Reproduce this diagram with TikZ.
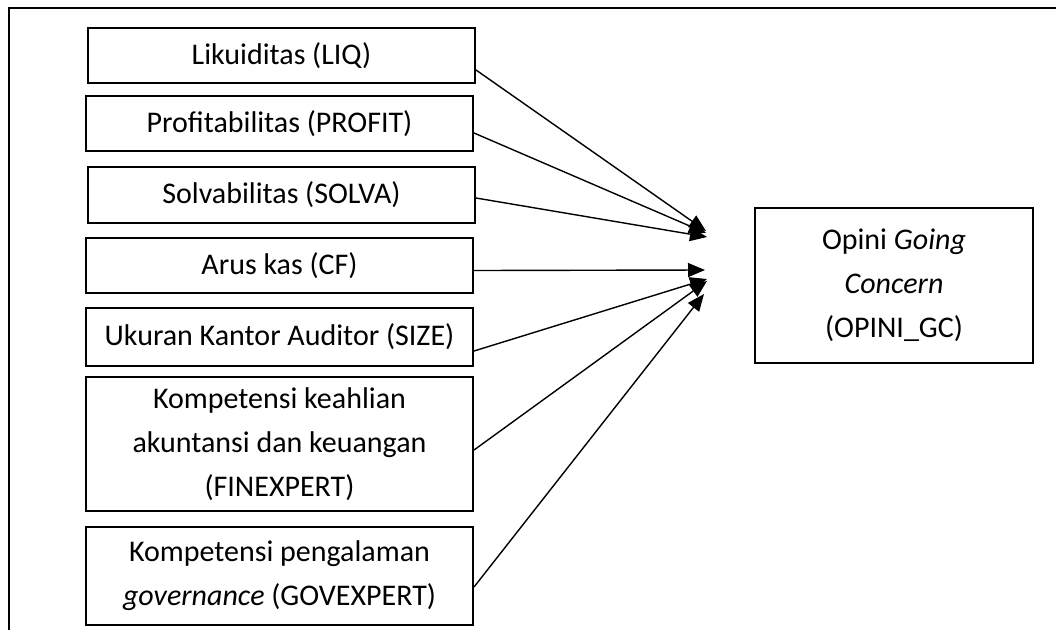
\documentclass[tikz,border=0pt]{standalone}
\usepackage{fontspec}
\setmainfont{Carlito}
\usetikzlibrary{arrows.meta}
\begin{document}
\begin{tikzpicture}[x=1pt, y=-1pt, >={Triangle[length=17pt,width=14pt]},
    varbox/.style={draw, line width=2pt, minimum width=387pt, inner sep=0pt,
        align=center, font=\fontsize{30}{44}\selectfont},
    link/.style={->, line width=1.4pt}]
    \useasboundingbox (0,0) rectangle (1056,630);
    \draw[line width=2pt] (1056,8) -- (9,8) -- (9,630);

    \node[varbox, minimum height=55pt] (liq) at (281.5,55.5) {Likuiditas (LIQ)};
    \node[varbox, minimum height=55pt] (profit) at (279.5,123.5) {Profitabilitas (PROFIT)};
    \node[varbox, minimum height=56pt] (solva) at (281.5,195) {Solvabilitas (SOLVA)};
    \node[varbox, minimum height=55pt] (cf) at (279.5,265.5) {Arus kas (CF)};
    \node[varbox, minimum height=58pt] (size) at (279.5,337) {Ukuran Kantor Auditor (SIZE)};
    \node[varbox, minimum height=134pt] (finexpert) at (279.5,444)
        {Kompetensi keahlian\\akuntansi dan keuangan\\(FINEXPERT)};
    \node[varbox, minimum height=98pt] (govexpert) at (279.5,576)
        {Kompetensi pengalaman\\\textit{governance} (GOVEXPERT)};
    \node[varbox, minimum width=278pt, minimum height=155pt] (opini) at (894,285.5)
        {Opini \textit{Going}\\\textit{Concern}\\(OPINI\_GC)};

    % arrow ends in front of opini
    \coordinate (tliq) at (706,231);
    \coordinate (tprofit) at (706,233);
    \coordinate (tsolva) at (707,237);
    \coordinate (tcf) at (705,270);
    \coordinate (tsize) at (707,279);
    \coordinate (tfinexpert) at (707,281);
    \coordinate (tgovexpert) at (704,294);

    \foreach \v/\dy in {liq/14.5, profit/9.5, solva/3, cf/5, size/14, finexpert/6, govexpert/11}
    {
        \draw[link] ([yshift=-\dy pt]\v.east) -- (t\v);
    }
\end{tikzpicture}
\end{document}
